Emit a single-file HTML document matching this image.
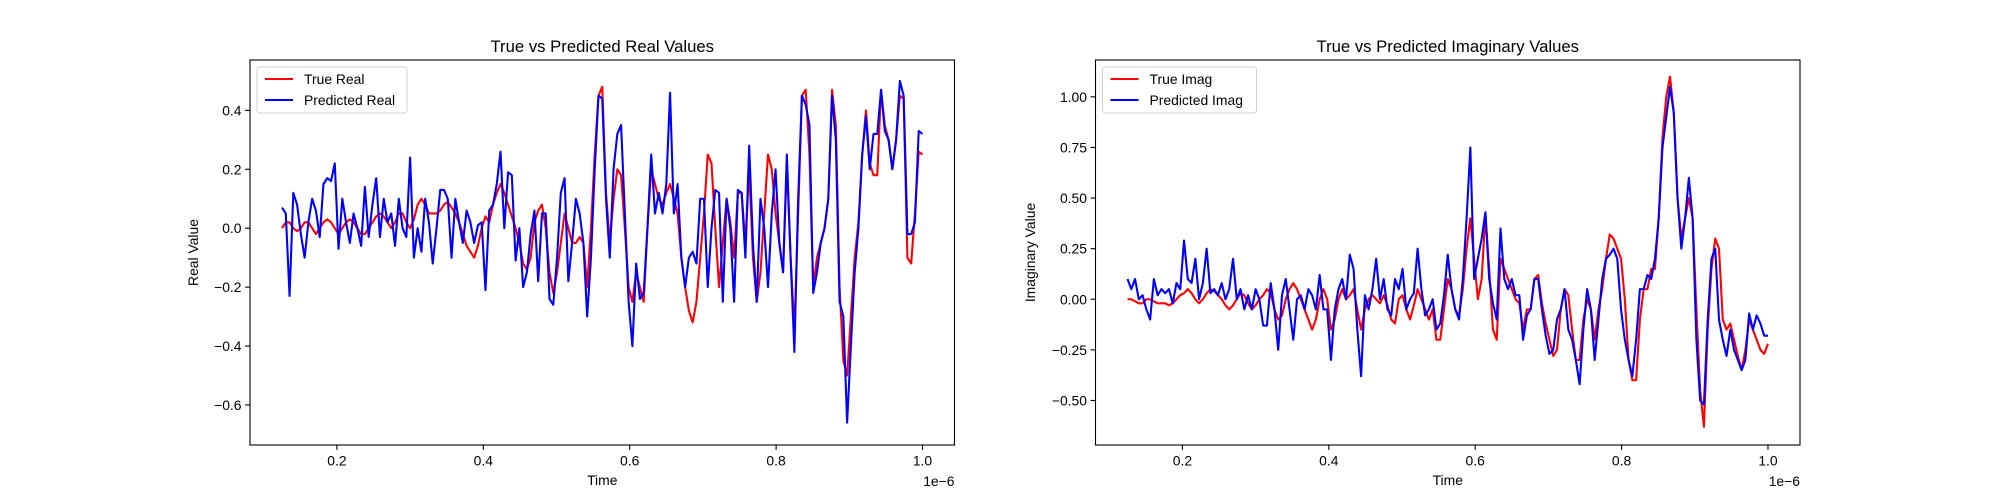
<!DOCTYPE html>
<html><head><meta charset="utf-8"><style>
body{margin:0;background:#fff;}
svg{display:block;font-family:"Liberation Sans","DejaVu Sans",sans-serif;}
</style></head><body>
<svg id="fig" width="2000" height="500" viewBox="0 0 2000 500"></svg>
<script>
const realTrue=[0.00,0.02,0.02,0.00,-0.01,0.00,0.02,0.02,0.00,-0.02,
0.00,0.02,0.03,0.02,0.00,-0.02,0.00,0.02,0.03,0.02,
0.00,-0.02,-0.02,0.00,0.02,0.04,0.05,0.04,0.02,0.00,
0.02,0.05,0.05,0.02,0.00,0.03,0.08,0.10,0.08,0.05,
0.05,0.05,0.06,0.08,0.09,0.07,0.05,0.02,-0.02,-0.06,
-0.08,-0.10,-0.06,0.00,0.04,0.02,0.08,0.12,0.15,0.12,
0.08,0.04,0.00,-0.05,-0.12,-0.14,-0.10,0.02,0.06,0.08,
0.00,-0.15,-0.22,-0.15,-0.05,0.05,0.00,-0.05,-0.05,-0.03,
-0.05,-0.20,0.00,0.25,0.45,0.48,0.12,-0.05,0.10,0.20,
0.18,0.00,-0.20,-0.25,-0.15,-0.20,-0.25,0.00,0.20,0.15,
0.10,0.08,0.12,0.15,0.10,0.05,-0.10,-0.20,-0.28,-0.32,
-0.25,-0.10,0.05,0.25,0.22,0.00,-0.20,-0.05,0.10,0.02,
-0.10,0.12,0.12,-0.05,0.20,-0.10,-0.25,-0.15,0.05,0.25,
0.20,0.05,-0.05,-0.15,0.22,-0.10,-0.35,0.05,0.45,0.47,
0.25,-0.20,-0.10,-0.05,0.00,0.10,0.47,0.35,-0.20,-0.45,
-0.50,-0.30,-0.10,0.02,0.25,0.40,0.22,0.18,0.18,0.47,
0.35,0.30,0.20,0.30,0.45,0.44,-0.10,-0.12,0.05,0.26,
0.25];
const realPred=[0.07,0.05,-0.23,0.12,0.08,-0.02,-0.10,0.02,0.10,0.06,
-0.03,0.15,0.17,0.16,0.22,-0.07,0.10,0.02,-0.05,0.05,
0.00,-0.06,0.14,-0.03,0.08,0.17,-0.03,0.10,0.02,0.05,
-0.06,0.10,0.00,-0.03,0.24,-0.10,0.00,-0.08,0.10,0.02,
-0.12,0.00,0.13,0.13,0.10,-0.10,0.10,0.02,-0.05,0.06,
0.02,-0.05,0.01,0.02,-0.21,0.06,0.08,0.15,0.26,0.00,
0.19,0.18,-0.11,0.00,-0.20,-0.15,-0.02,0.06,-0.18,0.05,
0.05,-0.24,-0.26,-0.10,0.12,0.17,-0.18,-0.05,0.10,0.05,
-0.05,-0.30,-0.10,0.20,0.45,0.44,0.10,-0.10,0.20,0.32,
0.35,0.05,-0.25,-0.40,-0.12,-0.24,-0.22,0.00,0.25,0.05,
0.12,0.05,0.15,0.46,0.05,0.15,-0.10,-0.20,-0.10,-0.08,
-0.12,0.10,0.10,-0.20,0.00,0.13,0.12,-0.25,0.10,0.00,
-0.25,0.13,0.12,-0.10,0.28,-0.05,-0.25,0.10,0.00,-0.20,
0.05,0.20,-0.05,-0.15,0.25,-0.10,-0.42,0.10,0.45,0.42,
0.35,-0.22,-0.15,-0.05,0.00,0.10,0.45,0.30,-0.25,-0.30,
-0.66,-0.40,-0.15,0.00,0.25,0.38,0.20,0.32,0.32,0.47,
0.33,0.30,0.20,0.30,0.50,0.45,-0.02,-0.02,0.02,0.33,
0.32];
const imagTrue=[0.00,0.00,-0.01,-0.02,-0.02,0.00,0.00,-0.01,-0.02,-0.02,
-0.02,-0.03,-0.02,0.00,0.02,0.03,0.05,0.03,0.00,-0.02,
0.00,0.03,0.05,0.04,0.02,0.00,-0.03,-0.05,-0.03,0.00,
0.03,0.02,-0.02,-0.05,-0.03,0.00,0.02,0.05,0.03,-0.05,
-0.10,-0.08,0.00,0.05,0.08,0.05,0.00,-0.05,-0.10,-0.15,
-0.10,0.00,0.05,0.00,-0.15,-0.10,0.00,0.05,0.00,0.02,
0.05,-0.05,-0.15,-0.05,0.00,0.02,0.00,-0.02,0.02,-0.03,
-0.10,-0.12,0.00,0.02,-0.05,-0.10,-0.03,0.05,0.00,-0.05,
-0.10,-0.05,-0.20,-0.20,-0.05,0.10,0.05,-0.05,-0.08,0.05,
0.25,0.40,0.20,0.00,0.10,0.42,0.15,-0.15,-0.20,0.20,
0.15,0.10,0.05,0.00,-0.02,-0.15,-0.05,-0.05,0.10,0.12,
-0.02,-0.12,-0.20,-0.28,-0.25,-0.05,0.05,0.02,-0.15,-0.30,
-0.30,-0.10,0.00,-0.05,-0.20,-0.05,0.05,0.20,0.32,0.30,
0.25,0.20,0.00,-0.30,-0.40,-0.40,-0.10,0.05,0.05,0.15,
0.15,0.40,0.80,1.00,1.10,0.92,0.50,0.30,0.40,0.50,
0.40,-0.05,-0.45,-0.63,-0.15,0.15,0.30,0.25,-0.10,-0.15,
-0.12,-0.20,-0.28,-0.35,-0.25,-0.10,-0.15,-0.20,-0.25,-0.27,
-0.22];
const imagPred=[0.10,0.05,0.10,0.00,0.02,-0.05,-0.10,0.10,0.02,0.05,
0.03,0.05,-0.02,0.08,0.05,0.29,0.10,0.08,0.20,0.00,
0.08,0.25,0.03,0.05,0.02,0.08,0.00,0.05,0.20,0.00,
0.05,-0.05,0.02,-0.05,0.05,0.00,-0.13,-0.13,0.08,-0.05,
-0.25,0.02,0.10,-0.05,-0.20,0.00,0.02,-0.05,0.05,0.02,
-0.05,0.12,-0.05,-0.05,-0.30,-0.05,0.05,0.10,0.00,0.22,
0.15,-0.15,-0.38,0.02,-0.05,0.05,0.20,0.00,0.10,-0.05,
-0.08,0.10,0.05,0.15,-0.05,0.00,0.03,0.25,0.05,-0.08,
-0.05,0.00,-0.15,-0.12,0.02,0.22,0.05,-0.05,-0.10,0.10,
0.40,0.75,0.10,0.20,0.30,0.43,0.10,-0.02,-0.10,0.35,
0.10,0.05,0.10,0.02,0.02,-0.20,-0.08,-0.05,0.10,0.10,
-0.05,-0.18,-0.27,-0.25,-0.10,-0.05,0.05,-0.15,-0.20,-0.30,
-0.42,-0.15,0.05,-0.05,-0.30,-0.10,0.10,0.20,0.22,0.25,
0.20,-0.05,-0.20,-0.30,-0.38,-0.20,0.05,0.05,0.12,0.10,
0.20,0.40,0.75,0.90,1.05,0.92,0.50,0.25,0.40,0.60,
0.40,-0.20,-0.50,-0.52,-0.10,0.20,0.25,-0.10,-0.20,-0.28,
-0.15,-0.25,-0.30,-0.35,-0.30,-0.07,-0.15,-0.08,-0.12,-0.18,
-0.18];
const timeStart=0.125, timeEnd=1.0;
const xTicks=[0.2,0.4,0.6,0.8,1.0];
const xTickLabels=["0.2","0.4","0.6","0.8","1.0"];
const realYTicks=[-0.6,-0.4,-0.2,0.0,0.2,0.4];
const realYTickLabels=["−0.6","−0.4","−0.2","0.0","0.2","0.4"];
const imagYTicks=[-0.5,-0.25,0,0.25,0.5,0.75,1.0];
const imagYTickLabels=["−0.50","−0.25","0.00","0.25","0.50","0.75","1.00"];

const NS="http://www.w3.org/2000/svg";
const svg=document.getElementById('fig');
function mk(tag,attrs,parent){const e=document.createElementNS(NS,tag);for(const k in attrs)e.setAttribute(k,attrs[k]);(parent||svg).appendChild(e);return e;}

function panel(o){
  const g=mk('g',{});
  
  
  const L=o.left,R=o.left+704.5,T=60,B=445;
  const xs=v=>L+(v-0.08125)/0.9625*(R-L);
  const ys=v=>B-(v-o.ymin)/(o.ymax-o.ymin)*(B-T);
  const n=o.t.length;
  const tAt=i=>timeStart+i*(timeEnd-timeStart)/(n-1);
  const cp=mk('clipPath',{id:'c'+o.name},g);
  mk('rect',{x:L,y:T,width:R-L,height:B-T},cp);
  [[o.t,'#ff0000',o.tName],[o.p,'#0000ff',o.pName]].forEach(([arr,col,nm])=>{
    const d=arr.map((v,i)=>(i?'L':'M')+xs(tAt(i)).toFixed(2)+' '+ys(v).toFixed(2)).join(' ');
    const pth=mk('path',{d:d,fill:'none',stroke:col,'stroke-width':2.08,'stroke-linejoin':'round','clip-path':'url(#c'+o.name+')'},g);
    
    
  });
  const fr=mk('rect',{x:L,y:T,width:R-L,height:B-T,fill:'none',stroke:'#000','stroke-width':1.1},g);
  
  
  xTicks.forEach((v,i)=>{
    const x=xs(v);
    mk('line',{x1:x,x2:x,y1:B,y2:B+4.9,stroke:'#000','stroke-width':1.1},g);
    const t=mk('text',{x:x,y:B+20.5,'text-anchor':'middle','font-size':13.9,fill:'#000'},g);
    t.textContent=xTickLabels[i];
    
    
  });
  o.yt.forEach((v,i)=>{
    const y=ys(v);
    mk('line',{x1:L-4.9,x2:L,y1:y,y2:y,stroke:'#000','stroke-width':1.1},g);
    const t=mk('text',{x:L-8.5,y:y+5,'text-anchor':'end','font-size':13.9,fill:'#000'},g);
    t.textContent=o.ytl[i];
    
    
  });
  const off=mk('text',{x:R,y:486,'text-anchor':'end','font-size':13.9,fill:'#000'},g);
  off.textContent='1e−6';
  
  
  const xl=mk('text',{x:(L+R)/2,y:485,'text-anchor':'middle','font-size':13.9,fill:'#000'},g);
  xl.textContent='Time';
  
  
  const yl=mk('text',{x:0,y:0,'text-anchor':'middle','font-size':13.9,fill:'#000',transform:'translate('+(o.ylx)+','+((T+B)/2)+') rotate(-90)'},g);
  yl.textContent=o.ylabel;
  
  
  const tt=mk('text',{x:(L+R)/2,y:52,'text-anchor':'middle','font-size':16.7,fill:'#000'},g);
  tt.textContent=o.title;
  
  
  const lg=mk('g',{},g);
  
  
  mk('rect',{x:L+7,y:67,width:o.lw,height:46,rx:3,fill:'#fff',stroke:'#d0d0d0','stroke-width':1},lg);
  [[o.tLabel,'#ff0000',79],[o.pLabel,'#0000ff',100]].forEach(([lab,col,y])=>{
    const e=mk('g',{},lg);
    
    
    mk('line',{x1:L+15,x2:L+43,y1:y,y2:y,stroke:col,'stroke-width':2.08},e);
    const t=mk('text',{x:L+54,y:y+5,'font-size':13.9,fill:'#000'},e);
    t.textContent=lab;
  });
}
panel({name:'real-chart',left:250,t:realTrue,p:realPred,ymin:-0.736,ymax:0.571,yt:realYTicks,ytl:realYTickLabels,
  ylabel:'Real Value',ylx:198,title:'True vs Predicted Real Values',tLabel:'True Real',pLabel:'Predicted Real',lw:150,tName:'true-real-line',pName:'predicted-real-line'});
panel({name:'imag-chart',left:1095.5,t:imagTrue,p:imagPred,ymin:-0.720,ymax:1.182,yt:imagYTicks,ytl:imagYTickLabels,
  ylabel:'Imaginary Value',ylx:1035,title:'True vs Predicted Imaginary Values',tLabel:'True Imag',pLabel:'Predicted Imag',lw:154,tName:'true-imag-line',pName:'predicted-imag-line'});
</script>
</body></html>
